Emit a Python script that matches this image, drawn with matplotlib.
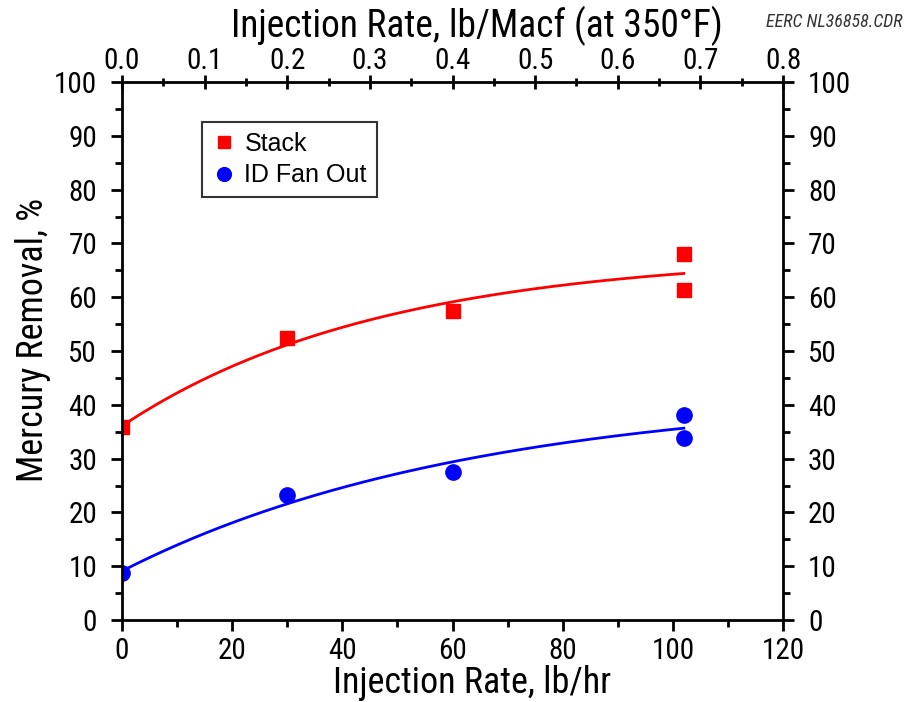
import numpy as np
import matplotlib
matplotlib.use("Agg")
import matplotlib.pyplot as plt

NARROW = ['Roboto Condensed', 'Liberation Sans', 'DejaVu Sans']
REGULAR = ['Liberation Sans', 'DejaVu Sans']
plt.rcParams['font.family'] = NARROW

# Measured mercury removal vs. sorbent injection rate
rate_stack = [0, 30, 60, 102, 102]
removal_stack = [35.8, 52.4, 57.5, 68.1, 61.4]
rate_fan = [0, 30, 60, 102, 102]
removal_fan = [8.7, 23.2, 27.5, 38.1, 33.9]

x_ticks = [0, 20, 40, 60, 80, 100, 120]
y_ticks = [0, 10, 20, 30, 40, 50, 60, 70, 80, 90, 100]
top_ticks = [0.0, 0.1, 0.2, 0.3, 0.4, 0.5, 0.6, 0.7, 0.8]
LBHR_TO_LBMACF = 0.8 / 120.0


def fit_saturation(x, y):
    """Least-squares fit of y = a - b*exp(-c*x)."""
    x = np.asarray(x, float)
    y = np.asarray(y, float)
    best = None
    for c in np.linspace(0.001, 0.1, 2000):
        A = np.column_stack([np.ones_like(x), -np.exp(-c * x)])
        coef, *_ = np.linalg.lstsq(A, y, rcond=None)
        err = np.sum((A @ coef - y) ** 2)
        if best is None or err < best[0]:
            best = (err, coef[0], coef[1], c)
    _, a, b, c = best
    return lambda t: a - b * np.exp(-c * t)


fig = plt.figure(figsize=(9.05, 7.02), dpi=100)
ax = fig.add_axes([122 / 905, 82 / 702, 661 / 905, 538 / 702])

xs = np.linspace(0, max(rate_stack), 200)
f_stack = fit_saturation(rate_stack, removal_stack)
f_fan = fit_saturation(rate_fan, removal_fan)
ax.plot(xs, f_stack(xs), color='#ff0000', lw=2)
ax.plot(xs, f_fan(xs), color='#0000ff', lw=2)

ax.plot(rate_stack, removal_stack, ls='none', marker='s', ms=10,
        color='#ff0000', label='Stack')
ax.plot(rate_fan, removal_fan, ls='none', marker='o', ms=11,
        color='#0000ff', label='ID Fan Out')

ax.set_xlim(0, 120)
ax.set_ylim(0, 100)
ax.set_xticks(x_ticks)
ax.set_xticks(np.arange(0, 121, 10), minor=True)
ax.set_yticks(y_ticks)
ax.set_yticks(np.arange(0, 101, 5), minor=True)

for s in ax.spines.values():
    s.set_linewidth(2)

ax.tick_params(axis='both', which='major', labelsize=21, width=2, length=8,
               direction='out', pad=4)
ax.tick_params(axis='both', which='minor', width=2, length=5, direction='out')
ax.tick_params(axis='y', which='both', right=True, labelright=True)
ax.tick_params(axis='y', which='major', pad=10)

ax.set_xlabel('Injection Rate, lb/hr', fontsize=26, labelpad=0)
ax.xaxis.label.set_x(0.53)
ax.set_ylabel('Mercury Removal, %', fontsize=26, labelpad=2)
ax.yaxis.label.set_y(0.52)

top = ax.secondary_xaxis('top', functions=(lambda v: v * LBHR_TO_LBMACF,
                                            lambda v: v / LBHR_TO_LBMACF))
top.set_xticks(top_ticks)
top.set_xticks(np.arange(0.05, 0.8, 0.1), minor=True)
top.set_xticklabels([f'{t:.1f}' for t in top_ticks])
top.tick_params(which='major', labelsize=21, width=2, length=10,
                direction='inout', pad=0)
top.tick_params(which='minor', width=2, length=6, direction='inout')
top.set_xlabel('Injection Rate, lb/Macf (at 350°F)', fontsize=27, labelpad=7)
top.xaxis.label.set_x(0.537)

leg = ax.legend(loc='upper left', bbox_to_anchor=(0.121, 0.926), fontsize=18,
                frameon=True, fancybox=False, edgecolor='black',
                handletextpad=0.3, borderpad=0.4, labelspacing=0.3,
                handlelength=1.0, borderaxespad=0, markerscale=0.9)
leg.get_frame().set_linewidth(1.5)
leg.get_frame().set_facecolor('white')
for t in leg.get_texts():
    t.set_family(REGULAR)

fig.text(0.997, 0.968, 'EERC NL36858.CDR', ha='right', va='center',
         fontsize=13, style='italic', color='#333333')

fig.savefig('out.png', dpi=100)
